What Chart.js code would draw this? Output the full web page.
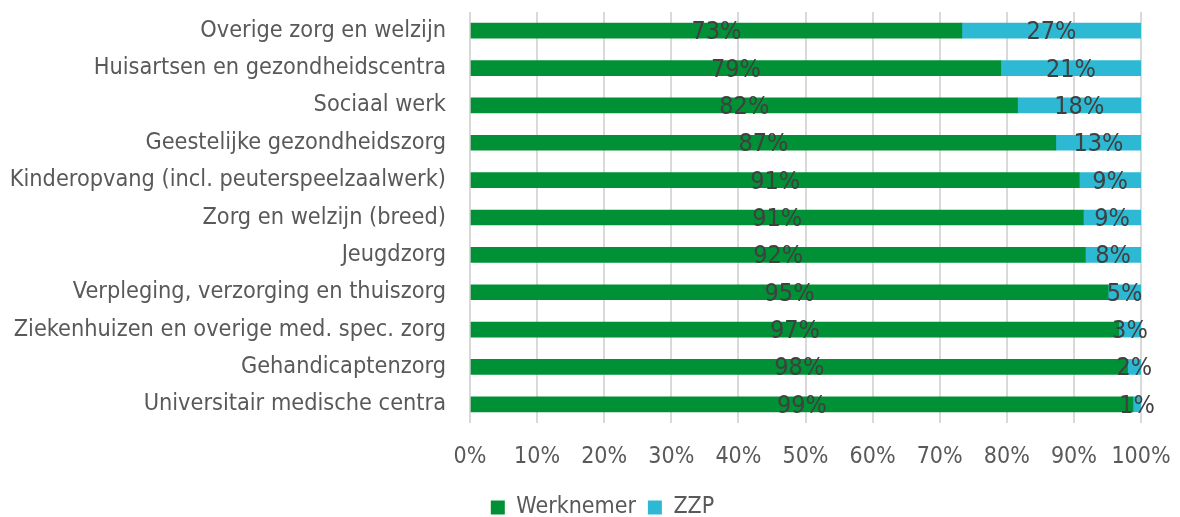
<!DOCTYPE html>
<html>
<head>
<meta charset="utf-8">
<script src="https://cdn.jsdelivr.net/npm/chart.js@4.4.1/dist/chart.umd.min.js"></script>
<style>
  html, body { margin: 0; padding: 0; background: #fff; }
  #wrap { width: 1180px; height: 517px; }
</style>
</head>
<body>
<div id="wrap"><canvas id="chart" width="1180" height="517"></canvas></div>
<script>
const categories = [
  'Overige zorg en welzijn',
  'Huisartsen en gezondheidscentra',
  'Sociaal werk',
  'Geestelijke gezondheidszorg',
  'Kinderopvang (incl. peuterspeelzaalwerk)',
  'Zorg en welzijn (breed)',
  'Jeugdzorg',
  'Verpleging, verzorging en thuiszorg',
  'Ziekenhuizen en overige med. spec. zorg',
  'Gehandicaptenzorg',
  'Universitair medische centra'
];
const werknemer = [73.3, 79.1, 81.6, 87.3, 90.8, 91.4, 91.7, 95.1, 96.7, 98.0, 98.8];
const zzp = [26.7, 20.9, 18.4, 12.7, 9.2, 8.6, 8.3, 4.9, 3.3, 2.0, 1.2];
const xTicks = [0, 10, 20, 30, 40, 50, 60, 70, 80, 90, 100];

const FONT = '"DejaVu Sans Condensed", "DejaVu Sans", sans-serif';

// draws the rounded percentage in the middle of each segment
const segmentLabels = {
  id: 'segmentLabels',
  afterLayout(chart) {
    // legend in the reference sits a bit right of centre
    chart.legend.left += 32;
    chart.legend.right += 32;
  },
  afterDatasetsDraw(chart) {
    const ctx = chart.ctx;
    ctx.save();
    ctx.font = '25px ' + FONT;
    ctx.fillStyle = '#404040';
    ctx.textAlign = 'center';
    ctx.textBaseline = 'middle';
    chart.data.datasets.forEach((ds, i) => {
      chart.getDatasetMeta(i).data.forEach((bar, j) => {
        const cx = (bar.x + bar.base) / 2;
        ctx.fillText(Math.round(ds.data[j]) + '%', cx, bar.y + 2);
      });
    });
    ctx.restore();
  }
};

new Chart(document.getElementById('chart').getContext('2d'), {
  type: 'bar',
  data: {
    labels: categories,
    datasets: [
      { label: 'Werknemer', data: werknemer, backgroundColor: '#009035', barThickness: 15 },
      { label: 'ZZP', data: zzp, backgroundColor: '#2db9d3', barThickness: 15 }
    ]
  },
  options: {
    indexAxis: 'y',
    responsive: false,
    animation: false,
    layout: { padding: { top: 12, right: 39, left: 0, bottom: -12 } },
    scales: {
      x: {
        stacked: true,
        min: 0,
        max: 100,
        afterBuildTicks: s => { s.ticks = xTicks.map(v => ({ value: v })); },
        afterFit: s => { s.height = 61; s.paddingLeft = 0; s.paddingRight = 0; },
        border: { display: false },
        grid: { color: '#d9d9d9', lineWidth: 2, drawTicks: false },
        ticks: {
          padding: 20,
          color: '#595959',
          font: { family: FONT, size: 23 },
          callback: v => v + '%',
          maxRotation: 0,
          autoSkip: false
        }
      },
      y: {
        stacked: true,
        afterFit: s => { s.width = 470; s.paddingTop = 0; s.paddingBottom = 0; },
        border: { display: false },
        grid: { display: false, drawTicks: false },
        ticks: {
          padding: 24,
          color: '#595959',
          font: { family: FONT, size: 23.3 },
          autoSkip: false
        }
      }
    },
    plugins: {
      legend: {
        position: 'bottom',
        labels: {
          boxWidth: 14,
          boxHeight: 14,
          padding: 12,
          color: '#595959',
          font: { family: FONT, size: 23 }
        }
      },
      tooltip: { enabled: false },
      title: { display: false }
    }
  },
  plugins: [segmentLabels]
});
</script>
</body>
</html>
